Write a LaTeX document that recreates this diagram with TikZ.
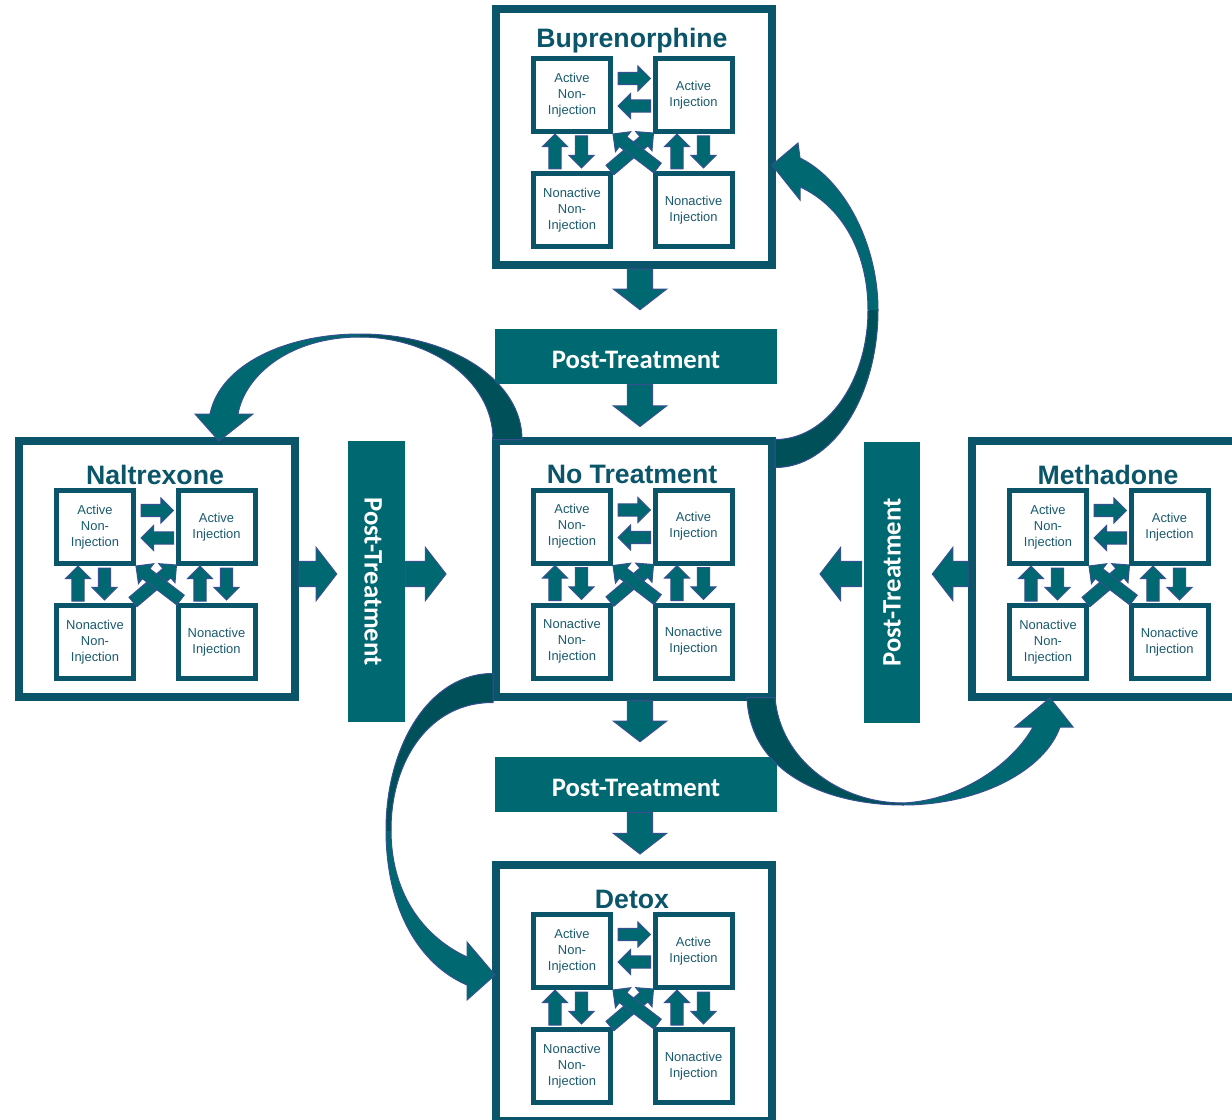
\documentclass[tikz,border=0pt]{standalone}
\usepackage{fontspec}
\usepackage{graphicx}
\setmainfont{Liberation Sans}
\newfontfamily\ptfont{Carlito}
\usetikzlibrary{calc}

\definecolor{boxline}{RGB}{10,85,105}
\definecolor{tealfill}{RGB}{0,104,112}
\definecolor{tealdark}{RGB}{0,80,90}
\definecolor{arrowline}{RGB}{55,80,145}
\definecolor{statetext}{RGB}{25,90,110}

\tikzset{
  bigbox/.style={draw=boxline, line width=6pt, fill=white, minimum width=207pt, minimum height=192pt, inner sep=0pt},
  statebox/.style={draw=boxline, line width=3.75pt, fill=white, minimum width=57.75pt, minimum height=54.75pt,
    inner sep=0pt, align=center, text=statetext, font=\fontsize{9.7}{12}\selectfont},
  titletext/.style={anchor=base, text=boxline, font=\fontsize{20}{24}\selectfont\bfseries},
  ptbox/.style={fill=tealfill, text=white, minimum width=211.5pt, minimum height=41.25pt, inner sep=0pt,
    text height=18pt, text depth=0pt, font=\ptfont\fontsize{20}{24}\selectfont\bfseries},
  blockarrow/.style n args={3}{fill=tealfill, draw=arrowline, line width=0.75pt,
    to path={($(\tikztostart)!#1!90:(\tikztotarget)$)
      -- ($($(\tikztotarget)!#3!(\tikztostart)$)!#1!90:(\tikztotarget)$)
      -- ($($(\tikztotarget)!#3!(\tikztostart)$)!#2!90:(\tikztotarget)$)
      -- (\tikztotarget)
      -- ($($(\tikztotarget)!#3!(\tikztostart)$)!#2!-90:(\tikztotarget)$)
      -- ($($(\tikztotarget)!#3!(\tikztostart)$)!#1!-90:(\tikztotarget)$)
      -- ($(\tikztostart)!#1!-90:(\tikztotarget)$) -- cycle}},
  small/.style={blockarrow={4.6pt}{9.4pt}{9.5pt}},
  big/.style={blockarrow={9.5pt}{20pt}{15.5pt}},
  curvefill/.style={fill=tealfill},
  curvedark/.style={fill=tealdark},
  curveline/.style={draw=arrowline, line width=0.75pt}
}

% one treatment block: [#1 title baseline], #2 name, #3 title, #4 centre
\newcommand\treatment[4][47]{%
  \node[bigbox] (#2) at (#4) {};
  \node[titletext] (#2title) at ($(#2.north)+(-2,#1)$) {#3};
  \node[statebox] (#2ani) at ($(#2.center)+(-62,-42)$) {Active\\Non-\\Injection};
  \node[statebox] (#2ai) at ($(#2.center)+(59.5,-42)$) {Active\\Injection};
  \node[statebox] (#2nni) at ($(#2.center)+(-62,73)$) {Nonactive\\Non-\\Injection};
  \node[statebox] (#2ni) at ($(#2.center)+(59.5,73)$) {Nonactive\\Injection};
  % transitions
  \draw[small] ($(#2ani.east)+(5,-16.5)$) to ($(#2ai.west)+(-2,-16.5)$);
  \draw[small] ($(#2ai.west)+(-2,11)$) to ($(#2ani.east)+(5,11)$);
  \draw[small] ($(#2nni.north)+(-17,-2)$) to ($(#2ani.south)+(-17,0)$);
  \draw[small] ($(#2ani.south)+(9.5,2)$) to ($(#2nni.north)+(9.5,-3)$);
  \draw[small] ($(#2ni.north)+(-16.5,-2)$) to ($(#2ai.south)+(-16.5,0)$);
  \draw[small] ($(#2ai.south)+(10,2)$) to ($(#2ni.north)+(10,-3)$);
  \draw[small] ($(#2nni.north east)+(-3,-1)$) to ($(#2ai.south west)+(1,-1)$);
  \draw[small] ($(#2ni.north west)+(5,-3)$) to (#2ani.south east);
}

\begin{document}
\begin{tikzpicture}[x=0.75pt,y=-0.75pt]
\useasboundingbox (0,0) rectangle (1232,1120);

% treatment blocks
\treatment[43]{bup}{Buprenorphine}{634,137}
\treatment{nt}{No Treatment}{634,568.5}
\treatment{nal}{Naltrexone}{157,569}
\treatment{meth}{Methadone}{1110,569}
\treatment{detox}{Detox}{634,993}

% post-treatment bars
\node[ptbox] (pttop) at (636,356.5) {Post-Treatment};
\node[ptbox] (ptbot) at (636,784.5) {Post-Treatment};
\node[ptbox, minimum width=42.75pt, minimum height=210.75pt, text height=, text depth=] (ptleft) at (376.5,581.5)
  {\rotatebox{-90}{\raisebox{0pt}[18pt][0pt]{Post-Treatment}}};
\node[ptbox, minimum width=42pt, minimum height=210.75pt, text height=, text depth=] (ptright) at (892,582.5)
  {\rotatebox{90}{Post-Treatment}};

% straight arrows
\draw[big] ($(bup.south)+(6,0)$) to ($(pttop.north)+(4,-19)$);
\draw[big] ($(pttop.south)+(4,0)$) to ($(nt.north)+(6,-10)$);
\draw[big] ($(nt.south)+(6,0)$) to ($(ptbot.north)+(4,-15)$);
\draw[big] ($(ptbot.south)+(4,0)$) to ($(detox.north)+(6,-7)$);
\draw[big] ($(nal.east)+(0,5)$) to ($(ptleft.west)+(-11,-7.5)$);
\draw[big] ($(ptleft.east)+(0,-7.5)$) to ($(nt.west)+(-46,5.5)$);
\draw[big] ($(meth.west)+(0,5)$) to ($(ptright.east)+(12,-8.5)$);
\draw[big] ($(ptright.west)+(-2,-8.5)$) to ($(nt.east)+(44,5.5)$);

% curved arrows: ends
\coordinate (tailAo) at ($(nt.north east)+(-1,31)$);
\coordinate (tailAi) at ($(nt.north east)+(-1,3)$);
\coordinate (tipA) at ($(bup.east)+(-4,28)$);
\coordinate (tailBo) at ($(nt.north west)+(30,3)$);
\coordinate (tailBi) at ($(nt.north west)+(1,3)$);
\coordinate (tipB) at ($(nal.north)+(62,4)$);
\coordinate (tailCo) at ($(nt.south west)+(1,-27)$);
\coordinate (tailCi) at ($(nt.south west)+(1,2)$);
\coordinate (tipC) at ($(detox.west)+(3,-18)$);
\coordinate (tailDo) at ($(nt.south east)+(-29,-3)$);
\coordinate (tailDi) at ($(nt.south east)+(-1,-3)$);
\coordinate (tipD) at ($(meth.south)+(-60,-3)$);

% No Treatment -> Buprenorphine
\path[save path=\curveA] (tailAo) .. controls (832,468) and (878,397) .. (878,310)
  .. controls (878,245) and (845,180) .. (800,158) -- (798,143) -- (tipA) -- (800,200) -- (800,187)
  .. controls (840,205) and (868,250) .. (868,310) .. controls (868,382) and (826,440) .. (tailAi) -- cycle;
\fill[curvefill, use path=\curveA];
\begin{scope}
  \clip (700,310) rectangle (900,480);
  \fill[curvedark, use path=\curveA];
\end{scope}
\draw[curveline, use path=\curveA];

% No Treatment -> Naltrexone
\path[save path=\curveB] (tailBo) .. controls (522,380) and (450,334) .. (360,334)
  .. controls (285,334) and (220,365) .. (210,414) -- (195,414) -- (tipB) -- (253,414) -- (238,414)
  .. controls (245,375) and (290,337) .. (360,337) .. controls (430,337) and (493,380) .. (tailBi) -- cycle;
\fill[curvefill, use path=\curveB];
\begin{scope}
  \clip (360,320) rectangle (540,450);
  \fill[curvedark, use path=\curveB];
\end{scope}
\draw[curveline, use path=\curveB];

% No Treatment -> Detox
\path[save path=\curveC] (tailCo) .. controls (430,673) and (386,745) .. (386,830)
  .. controls (386,910) and (420,965) .. (467,985) -- (467,1000) -- (tipC) -- (467,942) -- (467,957)
  .. controls (420,935) and (391,890) .. (391,830) .. controls (391,760) and (430,702) .. (tailCi) -- cycle;
\fill[curvefill, use path=\curveC];
\begin{scope}
  \clip (370,660) rectangle (500,830);
  \fill[curvedark, use path=\curveC];
\end{scope}
\draw[curveline, use path=\curveC];

% No Treatment -> Methadone
\path[save path=\curveD] (tailDo) .. controls (750,775) and (830,805) .. (903,805)
  .. controls (980,805) and (1045,770) .. (1060,727) -- (1073,727) -- (tipD) -- (1015,727) -- (1033,727)
  .. controls (1015,760) and (965,800) .. (903,803) .. controls (840,803) and (780,760) .. (tailDi) -- cycle;
\fill[curvefill, use path=\curveD];
\begin{scope}
  \clip (740,690) rectangle (903,820);
  \fill[curvedark, use path=\curveD];
\end{scope}
\draw[curveline, use path=\curveD];

\end{tikzpicture}
\end{document}
